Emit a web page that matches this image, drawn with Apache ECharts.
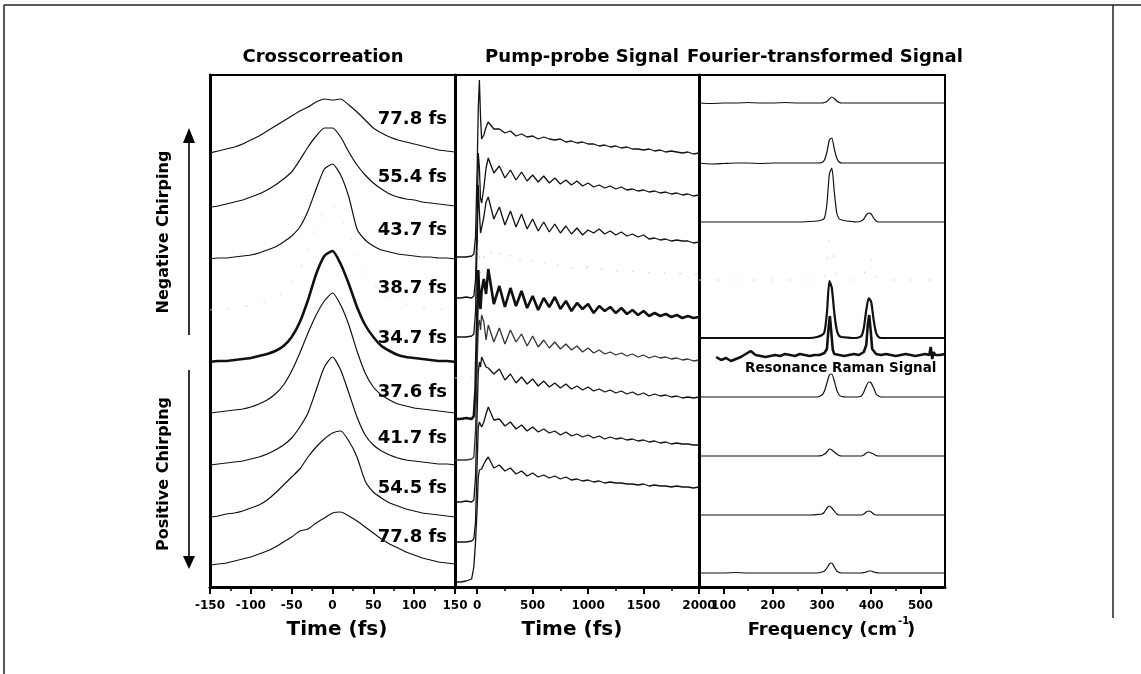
<!DOCTYPE html>
<html><head><meta charset="utf-8">
<script src="https://cdn.jsdelivr.net/npm/echarts@6/dist/echarts.min.js"></script>
<style>html,body{margin:0;padding:0;background:#fff}#c{width:1141px;height:674px}</style>
</head><body><div id="c"></div>
<script>
// ---------- DATA ----------
const PULSE_LABELS = ['77.8 fs','55.4 fs','43.7 fs','38.7 fs','34.7 fs','37.6 fs','41.7 fs','54.5 fs','77.8 fs'];

// Crosscorrelation (time in fs) ; values are heights above each trace's baseline
const CC_TIME = [-150,-140,-130,-120,-110,-100,-90,-80,-70,-60,-50,-40,-30,-20,-10,0,10,20,30,40,50,60,70,80,90,100,110,120,130,140,150];
const CC_OFFSETS = [434,380,328,277,225,174,122,70,22];
const CC_1 = [0,2,4,6,9,13,17,22,27,32,37,42,46,51,54,53,54,48,41,33,25,20,16,13,11,9,7,5,3,2,1];
const CC_2 = [0,1,3,5,7,10,13,17,22,28,35,47,60,71,79,79,70,55,42,32,24,18,13,10,8,7,5,4,3,2,1];
const CC_3 = [0,1,1,2,3,4,6,9,12,17,23,32,48,70,90,95,84,62,30,19,13,9,7,5,4,3,2,2,1,1,0];
const CC_4 = [0,1,1,2,3,5,7,9,12,17,26,40,60,82,100,104,94,76,55,38,26,18,12,8,6,4,3,2,1,1,0];
const CC_5 = [0,1,1,2,3,4,6,8,11,16,25,40,62,88,106,111,98,78,55,37,25,16,11,7,5,4,3,2,1,1,0];
const CC_6 = [0,1,2,3,4,6,9,13,19,28,42,60,80,98,112,120,108,88,62,40,26,18,13,9,7,5,4,3,2,1,0];
const CC_7 = [0,1,2,3,4,6,8,11,15,20,27,38,52,75,98,108,95,72,48,30,20,14,10,7,5,4,3,2,1,1,0];
const CC_8 = [0,1,3,4,6,9,12,17,24,32,40,48,60,70,78,84,86,76,60,36,25,19,14,11,8,6,4,3,2,1,0];
const CC_9 = [0,1,2,4,6,8,11,14,18,23,28,34,36,42,47,52,53,49,44,38,32,26,21,17,13,10,7,5,3,2,1];
const CC_SERIES = [CC_1,CC_2,CC_3,CC_4,CC_5,CC_6,CC_7,CC_8,CC_9];

// Pump-probe signal (time in fs)
const PP_TIME = [-200,-150,-100,-50,-30,-15,0,10,20,30,40,60,80,100,150,200,250,300,350,400,450,500,550,600,650,700,750,800,850,900,950,1000,1050,1100,1150,1200,1250,1300,1350,1400,1450,1500,1550,1600,1650,1700,1750,1800,1850,1900,1950,2000];
const PP_OFFSETS = [330,289,250,209,168,127,85,45,5];
const PP_1 = [0,0,0,1,3,20,90,150,177,140,118,122,130,135,128,128,124,126,121,123,120,121,118,120,118,117,118,115,116,114,115,113,113,111,112,110,111,109,110,108,108,107,108,106,107,105,106,105,104,105,103,104];
const PP_2 = [0,0,1,0,2,18,80,145,130,100,95,110,130,140,125,132,120,128,118,126,117,123,116,122,115,120,114,118,113,117,112,115,111,113,110,112,109,111,108,109,107,108,106,107,105,106,104,105,103,104,102,103];
const PP_3 = [0,0,0,1,3,25,95,152,125,104,106,120,135,140,118,130,112,126,110,123,108,118,106,115,105,113,104,111,103,109,102,107,104,108,103,106,102,105,101,103,100,102,98,99,97,98,96,97,96,96,94,95];
const PP_4 = [0,0,0,0,2,20,85,140,120,105,108,120,128,130,120,126,117,123,115,120,114,118,113,116,112,115,111,113,110,112,109,111,108,110,108,109,107,108,107,107,106,106,105,106,105,105,104,105,104,104,103,105];
const PP_5 = [0,0,1,0,3,30,100,149,120,110,128,140,125,150,115,133,112,131,113,128,111,123,109,121,112,122,110,118,108,116,110,115,106,113,108,112,106,111,105,109,104,108,103,106,103,105,102,104,101,103,101,102];
const PP_6 = [0,0,0,1,3,30,95,135,140,130,145,138,120,135,118,132,116,130,118,126,114,124,113,120,112,118,111,116,110,114,108,112,107,110,106,108,105,107,104,106,103,105,102,104,102,103,101,102,100,101,99,100];
const PP_7 = [0,0,1,0,2,25,90,130,140,135,145,140,135,134,128,133,122,128,119,125,118,123,116,121,115,119,114,118,113,116,112,115,111,113,110,112,109,111,108,110,107,109,106,108,106,107,105,106,104,105,104,105];
const PP_8 = [0,0,0,1,3,20,80,115,120,118,115,120,128,135,122,123,116,120,113,117,111,115,110,113,109,111,107,110,106,108,105,107,104,106,103,105,103,104,102,103,101,102,100,101,99,100,98,99,98,98,97,97];
const PP_9 = [0,0,1,3,15,40,75,105,112,110,113,118,122,125,114,117,111,114,108,111,106,109,105,107,104,106,103,105,102,103,101,102,100,101,99,100,99,99,98,98,97,98,96,97,96,96,95,96,95,95,94,95];
const PP_SERIES = [PP_1,PP_2,PP_3,PP_4,PP_5,PP_6,PP_7,PP_8,PP_9];

// Fourier-transformed signal (frequency in cm^-1)
const FT_FREQ = [50,75,100,125,150,175,200,225,250,275,290,300,305,310,315,320,325,330,335,340,350,360,370,380,385,390,395,400,405,410,415,420,430,450,475,500,525,550];
const FT_OFFSETS = [484,424,365,307,249,190,131,72,14];
const FT_1 = [0,-0.5,0,0,0.5,0,0,0.5,0,0,0,0,0.5,1.5,4,6,4.5,2,0.5,0,0,0,0,0,0,0,0,0,0,0,0,0,0,0,0,0,0,0];
const FT_2 = [0,-1,-0.5,0,0,-0.5,0,0,0,0,0,0.5,3,11,23,25,14,5,1,0,0,0,0,0,0,0,0,0,0,0,0,0,0,0,0,0,0,0];
const FT_3 = [0,0,0,0,0,0,0,0,0,0.5,1,2,4,18,48,54,30,9,3,2,1,0.5,0,1,3,7,9,8,4,1,0,0,0,0,0,0,0,0];
const FT_4 = [0,0,0,0,0,0,0,0,0,0,0,1,3,15,40,38,18,5,1,0,0,0,0,1,5,14,22,20,10,3,1,0,0,0,0,0,0,0];
const FT_5 = [0,0,0,0,0,0,0,0,0,0,1,3,6,25,57,50,25,8,2,1,0.5,0,0,2,10,28,40,36,18,5,1,0,0,0,0,0,0,0];
const FT_6 = [0,0,0,0,0,0,0,0,0,0,0,2,6,14,22,23,16,7,2,0.5,0,0,0,1,5,11,15,14,9,3,1,0,0,0,0,0,0,0];
const FT_7 = [0,0,0,0,0,0,0,0,0,0,0,0.5,2,4,7,6,4,2,0.5,0,0,0,0,0,1,3,4,3,2,0.5,0,0,0,0,0,0,0,0];
const FT_8 = [0,0,0,0,0,0,0,0,0,0,0.5,1,3,7,9,7,4,1,0,0,0,0,0,0,1,3,4,3,1,0,0,0,0,0,0,0,0,0];
const FT_9 = [0,0,0,0.5,0,0,0,0,0,0,0,1,2,5,9,10,6,2,0.5,0,0,0,0,0,0.5,1,2,2,1,0.5,0,0,0,0,0,0,0,0];
const FT_SERIES = [FT_1,FT_2,FT_3,FT_4,FT_5,FT_6,FT_7,FT_8,FT_9];

// Resonance Raman reference spectrum
const RAMAN_FREQ = [85,95,105,115,125,135,145,155,165,175,185,195,205,215,225,235,245,255,265,275,285,295,305,310,313,316,319,322,325,335,345,355,365,375,385,390,393,396,399,402,410,420,430,440,450,460,470,480,490,500,510,518,521,524,527,530,540,550];
const RAMAN_VAL = [-2,-5,-3,-6,-4,-2,1,4,0,-1,-2,-1,0,-1,1,0,-1,1,0,-1,0,0,2,6,25,39,22,5,1,0,-1,0,1,0,3,10,30,40,24,6,1,0,1,0,-1,0,1,0,-1,0,1,0,8,-4,3,0,0,1];
const RAMAN_OFFSET = 232;

const TICKS_PP = [0,500,1000,1500,2000];
const MINOR_PP = [250,750,1250,1750];
const TICKS_FT = [100,200,300,400,500];
const MINOR_FT = [150,250,350,450];

// ---------- CHART ----------
const FONT = 'DejaVu Sans';
const chart = echarts.init(document.getElementById('c'), null, {renderer:'canvas'});

function pairs(xs, ys, off){ return xs.map((x,i)=>[x, off + ys[i]]); }
const FADED = 3;   // the 38.7 fs traces are almost lost in the original scan
const THICK = 4;

const series = [];
CC_SERIES.forEach((ys,k)=>{
  series.push({type:'line', xAxisIndex:0, yAxisIndex:0, data:pairs(CC_TIME, ys, CC_OFFSETS[k]),
    symbol:'none', smooth:0.2, silent:true,
    lineStyle: k===FADED ? {color:'#dcdcdc', width:1, type:[2,16]} : {color:'#111', width: k===THICK?2.6:1.2}});
});
PP_SERIES.forEach((ys,k)=>{
  series.push({type:'line', xAxisIndex:1, yAxisIndex:1, data:pairs(PP_TIME, ys, PP_OFFSETS[k]),
    symbol:'none', smooth:false, silent:true,
    lineStyle: k===FADED ? {color:'#c8c8c8', width:1, type:[2,14]} : {color: k===5?'#333':'#111', width: k===THICK?2.6:1.3}});
});
FT_SERIES.forEach((ys,k)=>{
  series.push({type:'line', xAxisIndex:3, yAxisIndex:2, data:pairs(FT_FREQ, ys, FT_OFFSETS[k]),
    symbol:'none', smooth:0.2, silent:true,
    lineStyle: k===FADED ? {color:'#d0d0d0', width:1, type:[2,16]} : {color:'#111', width: k===THICK?2.2:1.2}});
});
series.push({type:'line', xAxisIndex:3, yAxisIndex:2, data:pairs(RAMAN_FREQ, RAMAN_VAL, RAMAN_OFFSET),
  symbol:'none', smooth:false, silent:true, lineStyle:{color:'#111', width:2.6}});

const plain = v => String(v);
const axisLbl = {fontFamily:FONT, fontWeight:'bold', fontSize:12, color:'#000', margin:13, formatter:plain};
const baseX = {type:'value', position:'bottom', splitLine:{show:false},
  axisLine:{show:true, onZero:false, lineStyle:{color:'#000', width:3}},
  axisTick:{show:true, length:7, lineStyle:{color:'#000', width:2}},
  axisLabel:axisLbl};

const grids = [
  {left:210, top:75, width:245, height:512},
  {left:455, top:75, width:244, height:512},
  {left:699, top:75, width:246, height:512}
].map(g=>Object.assign(g,{show:true, borderColor:'#000', borderWidth:2, backgroundColor:'transparent'}));

const xAxis = [
  Object.assign({}, baseX, {gridIndex:0, min:-150, max:150, interval:50,
    minorTick:{show:true, splitNumber:2, length:4, lineStyle:{color:'#000', width:1.5}}, minorSplitLine:{show:false}}),
  Object.assign({}, baseX, {gridIndex:1, min:-200, max:2000,
    axisTick:{show:true, length:7, customValues:TICKS_PP, lineStyle:{color:'#000', width:2}},
    axisLabel:Object.assign({}, axisLbl, {customValues:TICKS_PP})}),
  Object.assign({}, baseX, {gridIndex:1, min:-200, max:2000, axisLine:{show:false},
    axisTick:{show:true, length:4, customValues:MINOR_PP, lineStyle:{color:'#000', width:1.5}},
    axisLabel:{show:false}}),
  Object.assign({}, baseX, {gridIndex:2, min:50, max:550,
    axisTick:{show:true, length:7, customValues:TICKS_FT, lineStyle:{color:'#000', width:2}},
    axisLabel:Object.assign({}, axisLbl, {customValues:TICKS_FT})}),
  Object.assign({}, baseX, {gridIndex:2, min:50, max:550, axisLine:{show:false},
    axisTick:{show:true, length:4, customValues:MINOR_FT, lineStyle:{color:'#000', width:1.5}},
    axisLabel:{show:false}})
];
const yAxis = [0,1,2].map(i=>({type:'value', gridIndex:i, min:0, max:512,
  axisLine:{show:true, onZero:false, lineStyle:{color:'#000', width:3}},
  axisTick:{show:false}, axisLabel:{show:false}, splitLine:{show:false}}));

const txt = (x,y,text,size,align,extra)=>Object.assign({type:'text', x, y, silent:true,
  style:{text, fontFamily:FONT, fontWeight:'bold', fontSize:size, fill:'#000',
    textAlign:align||'center', textVerticalAlign:'middle'}}, extra||{});

const labelY = [119,177,230,288,338,392,438,488,537];
const graphic = [
  // outer frame
  {type:'line', silent:true, shape:{x1:4,y1:5,x2:1141,y2:5}, style:{stroke:'#222', lineWidth:1.5}},
  {type:'line', silent:true, shape:{x1:4,y1:5,x2:4,y2:674}, style:{stroke:'#222', lineWidth:1.5}},
  {type:'line', silent:true, shape:{x1:1113,y1:5,x2:1113,y2:618}, style:{stroke:'#222', lineWidth:1.5}},
  // panel titles
  txt(323,57,'Crosscorreation',18),
  txt(582,57,'Pump-probe Signal',18),
  txt(825,57,'Fourier-transformed Signal',18),
  // axis titles
  txt(337,630,'Time (fs)',20),
  txt(572,630,'Time (fs)',20),
  txt(897,630,'Frequency (cm',18,'right'),
  txt(898,621,'-1',10,'left'),
  txt(907,630,')',18,'left'),
  // chirp labels + arrows
  txt(164,232,'Negative Chirping',16,'center',{rotation:Math.PI/2}),
  txt(164,474,'Positive Chirping',16,'center',{rotation:Math.PI/2}),
  {type:'line', silent:true, shape:{x1:189,y1:335,x2:189,y2:142}, style:{stroke:'#333', lineWidth:2}},
  {type:'polygon', silent:true, shape:{points:[[183,143],[195,143],[189,128]]}, style:{fill:'#000'}},
  {type:'line', silent:true, shape:{x1:189,y1:370,x2:189,y2:557}, style:{stroke:'#333', lineWidth:2}},
  {type:'polygon', silent:true, shape:{points:[[183,556],[195,556],[189,569]]}, style:{fill:'#000'}},
  // raman label
  txt(745,368,'Resonance Raman Signal',13.5,'left')
].concat(PULSE_LABELS.map((l,i)=>txt(447,labelY[i],l,18,'right')));

chart.setOption({animation:false, backgroundColor:'#fff', grid:grids, xAxis, yAxis, series, graphic});
</script></body></html>
